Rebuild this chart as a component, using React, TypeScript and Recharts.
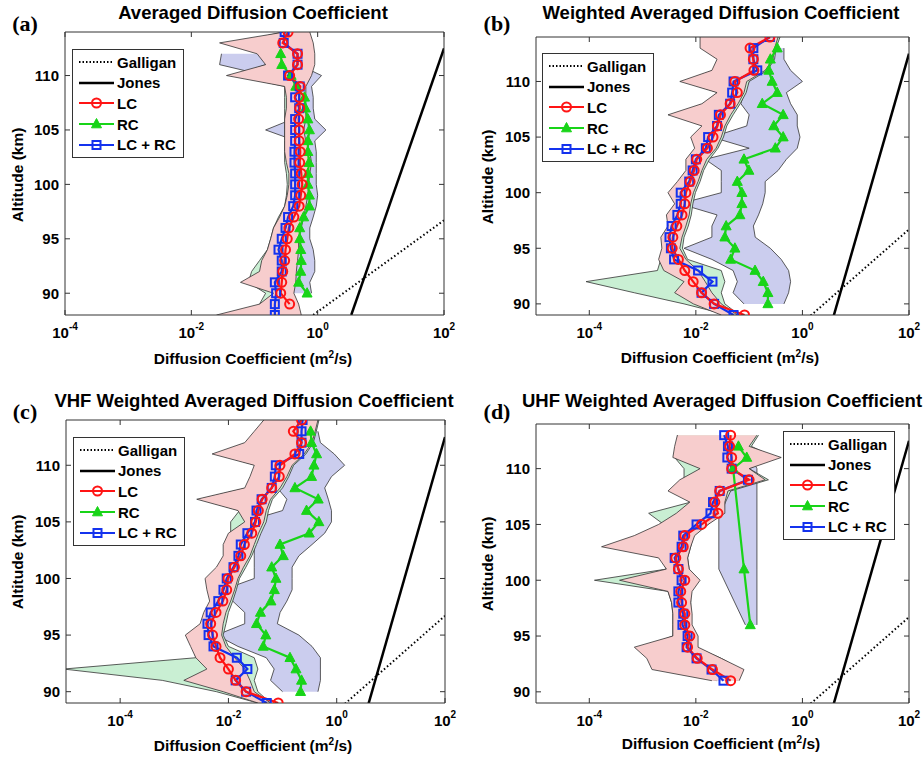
import React from "react";
import { ComposedChart, Line, Area, XAxis, YAxis, Legend } from "recharts";

const FONT = '"Liberation Sans", Arial, Helvetica, sans-serif';
const SERIF = '"Liberation Serif", "Times New Roman", serif';
const RED = "#ff1414";
const GREEN = "#18d418";
const BLUE = "#1432ee";
const PINK_FILL = "#f7cdcd";
const MINT_FILL = "#c9efd3";
const LAV_FILL = "#cbcdee";
const EDGE = "#333";

type Pair = [number, number] | null;
type Val = number | null;

// model curves (same in every panel)
const galliganAlt = [88, 96.7];
const galliganD = [0.85, 100];
const jonesAlt = [88, 112.5];
const jonesD = [3.4, 100];

const xTicks = [1e-4, 1e-2, 1, 100];
const yTicks = [90, 95, 100, 105, 110];

// (a) Averaged
const altA = [114, 113, 112, 111, 110, 109, 108, 107, 106, 105, 104, 103, 102, 101, 100, 99, 98, 97, 96, 95, 94, 93, 92, 91, 90, 89, 88];
const lcA: Val[] = [0.34, 0.28, 0.48, 0.48, 0.36, 0.53, 0.51, 0.52, 0.5, 0.51, 0.51, 0.53, 0.52, 0.55, 0.57, 0.54, 0.51, 0.42, 0.35, 0.33, 0.31, 0.3, 0.28, 0.27, 0.26, 0.36, null];
const rcA: Val[] = [null, null, 0.26, 0.27, 0.38, 0.45, 0.62, 0.64, 0.7, 0.74, 0.7, 0.7, 0.73, 0.7, 0.7, 0.74, 0.74, 0.6, 0.52, 0.52, 0.54, 0.55, 0.54, 0.5, 0.68, null, null];
const bothA: Val[] = [0.3, 0.29, 0.48, 0.48, 0.34, 0.52, 0.44, 0.51, 0.44, 0.44, 0.44, 0.43, 0.43, 0.44, 0.44, 0.44, 0.41, 0.34, 0.31, 0.27, 0.24, 0.27, 0.27, 0.21, 0.22, 0.21, 0.21];
const lcBandA: Pair[] = [[0.3, 0.75], [0.028, 0.85], [0.11, 0.9], [0.15, 0.9], [0.036, 0.8], [0.3, 0.65], [0.32, 0.65], [0.32, 0.65], [0.3, 0.65], [0.3, 0.6], [0.3, 0.65], [0.3, 0.75], [0.32, 0.8], [0.35, 0.75], [0.35, 0.72], [0.33, 0.7], [0.3, 0.65], [0.25, 0.6], [0.2, 0.55], [0.18, 0.5], [0.16, 0.5], [0.13, 0.48], [0.12, 0.46], [0.06, 0.45], [0.2, 0.42], [0.12, 0.5], [0.025, 0.55]];
const rcBandA: Pair[] = [null, null, [0.03, 0.4], [0.028, 0.5], [0.15, 1.15], [0.3, 0.8], [0.45, 0.85], [0.45, 0.85], [0.4, 0.9], [0.15, 1.35], [0.45, 0.9], [0.45, 0.95], [0.5, 0.95], [0.45, 0.95], [0.45, 0.95], [0.45, 1.0], [0.45, 0.95], [0.4, 0.85], [0.35, 0.75], [0.35, 0.75], [0.35, 0.85], [0.3, 0.9], [0.12, 0.9], [0.3, 0.75], [0.4, 0.8], null, null];
const bothBandA: Pair[] = [[0.28, 0.7], [0.05, 0.8], [0.15, 0.85], [0.15, 0.85], [0.05, 0.75], [0.3, 0.62], [0.3, 0.6], [0.3, 0.62], [0.3, 0.6], [0.3, 0.58], [0.3, 0.6], [0.3, 0.7], [0.3, 0.75], [0.32, 0.72], [0.33, 0.7], [0.32, 0.68], [0.3, 0.62], [0.24, 0.58], [0.2, 0.52], [0.18, 0.5], [0.16, 0.48], [0.12, 0.46], [0.09, 0.45], [0.08, 0.43], [0.15, 0.4], [0.12, 0.45], [0.1, 0.5]];

// (b) Weighted averaged
const altB = [114, 113, 112, 111, 110, 109, 108, 107, 106, 105, 104, 103, 102, 101, 100, 99, 98, 97, 96, 95, 94, 93, 92, 91, 90, 89];
const lcB: Val[] = [0.245, 0.104, 0.12, 0.123, 0.054, 0.06, 0.044, 0.029, 0.0254, 0.021, 0.0165, 0.0104, 0.0093, 0.0078, 0.0065, 0.0062, 0.0055, 0.0044, 0.0037, 0.0036, 0.0047, 0.0062, 0.0089, 0.0128, 0.022, 0.082];
const rcB: Val[] = [null, 0.336, 0.25, 0.234, 0.27, 0.336, 0.176, 0.435, 0.29, 0.435, 0.31, 0.08, 0.099, 0.06, 0.073, 0.073, 0.067, 0.037, 0.035, 0.054, 0.045, 0.129, 0.184, 0.225, 0.225, null];
const bothB: Val[] = [0.245, 0.12, 0.12, 0.142, 0.051, 0.048, 0.044, 0.027, 0.025, 0.017, 0.0154, 0.01, 0.0087, 0.0075, 0.0052, 0.0052, 0.0045, 0.0035, 0.0032, 0.0034, 0.0039, 0.011, 0.0205, 0.0128, 0.022, 0.051];
const lcBandB: Pair[] = [[0.012, 0.35], [0.012, 0.3], [0.025, 0.28], [0.02, 0.2], [0.005, 0.09], [0.025, 0.08], [0.013, 0.062], [0.003, 0.045], [0.013, 0.035], [0.008, 0.03], [0.0095, 0.024], [0.0065, 0.016], [0.0065, 0.013], [0.0045, 0.011], [0.003, 0.009], [0.004, 0.008], [0.0028, 0.0075], [0.003, 0.0065], [0.0022, 0.0055], [0.0023, 0.005], [0.002, 0.0065], [0.0025, 0.011], [0.006, 0.015], [0.004, 0.02], [0.009, 0.03], [0.03, 0.06]];
const rcBandB: Pair[] = [null, [0.25, 0.45], [0.12, 0.45], [0.1, 0.6], [0.1, 1.0], [0.08, 0.5], [0.07, 0.6], [0.1, 0.8], [0.09, 0.8], [0.02, 0.9], [0.1, 0.8], [0.015, 0.5], [0.03, 0.35], [0.03, 0.2], [0.03, 0.2], [0.005, 0.18], [0.025, 0.15], [0.02, 0.12], [0.02, 0.13], [0.006, 0.25], [0.02, 0.4], [0.05, 0.55], [0.06, 0.6], [0.05, 0.55], [0.08, 0.45], null];
const bothBandB: Pair[] = [[0.013, 0.38], [0.013, 0.32], [0.026, 0.3], [0.021, 0.22], [0.006, 0.1], [0.026, 0.088], [0.014, 0.068], [0.004, 0.05], [0.014, 0.038], [0.009, 0.033], [0.01, 0.026], [0.007, 0.018], [0.007, 0.014], [0.005, 0.012], [0.0032, 0.0098], [0.0042, 0.0088], [0.003, 0.0082], [0.0032, 0.0072], [0.0024, 0.006], [0.0025, 0.0056], [0.0022, 0.007], [0.0019, 0.03], [0.000087, 0.035], [0.0007, 0.03], [0.006, 0.035], [0.04, 0.065]];

// (c) VHF weighted averaged
const altC = altB;
const lcC: Val[] = [0.224, 0.158, 0.224, 0.169, 0.0895, 0.087, 0.063, 0.042, 0.0357, 0.032, 0.027, 0.0197, 0.0169, 0.0129, 0.0098, 0.0093, 0.0079, 0.0059, 0.0047, 0.0051, 0.0059, 0.007, 0.01, 0.0136, 0.0212, 0.083];
const rcC: Val[] = [null, 0.329, 0.343, 0.425, 0.38, 0.343, 0.169, 0.455, 0.277, 0.468, 0.311, 0.0896, 0.103, 0.063, 0.0755, 0.0704, 0.061, 0.039, 0.033, 0.049, 0.044, 0.137, 0.177, 0.224, 0.215, null];
const bothC: Val[] = [0.234, 0.224, 0.224, 0.203, 0.075, 0.072, 0.063, 0.041, 0.033, 0.031, 0.0224, 0.0169, 0.0153, 0.0124, 0.0093, 0.0081, 0.0065, 0.0047, 0.0041, 0.0043, 0.0053, 0.0143, 0.0224, 0.0136, 0.0212, 0.051];
const lcBandC: Pair[] = [[0.045, 0.45], [0.03, 0.4], [0.02, 0.35], [0.005, 0.25], [0.03, 0.15], [0.025, 0.12], [0.02, 0.09], [0.0026, 0.06], [0.015, 0.05], [0.02, 0.045], [0.01, 0.036], [0.008, 0.03], [0.008, 0.025], [0.006, 0.019], [0.0037, 0.015], [0.004, 0.013], [0.0045, 0.011], [0.0035, 0.009], [0.003, 0.008], [0.0016, 0.0075], [0.002, 0.009], [0.0025, 0.013], [0.004, 0.02], [0.0015, 0.025], [0.008, 0.03], [0.035, 0.06]];
const rcBandC: Pair[] = [null, [0.25, 0.45], [0.2, 0.5], [0.15, 0.9], [0.12, 1.4], [0.1, 0.8], [0.08, 0.6], [0.12, 0.7], [0.1, 0.8], [0.02, 0.8], [0.015, 0.6], [0.03, 0.35], [0.03, 0.2], [0.03, 0.15], [0.03, 0.15], [0.008, 0.15], [0.012, 0.12], [0.02, 0.09], [0.02, 0.08], [0.006, 0.2], [0.015, 0.35], [0.05, 0.5], [0.07, 0.5], [0.06, 0.5], [0.1, 0.45], null];
const bothBandC: Pair[] = [[0.045, 0.47], [0.035, 0.42], [0.022, 0.37], [0.006, 0.27], [0.032, 0.16], [0.027, 0.13], [0.022, 0.1], [0.003, 0.065], [0.016, 0.055], [0.011, 0.05], [0.011, 0.04], [0.009, 0.033], [0.009, 0.027], [0.0065, 0.021], [0.004, 0.016], [0.0045, 0.014], [0.005, 0.012], [0.004, 0.01], [0.0033, 0.009], [0.0018, 0.008], [0.0022, 0.01], [0.0025, 0.03], [0.000009, 0.035], [0.0006, 0.03], [0.006, 0.035], [0.035, 0.06]];

// (d) UHF weighted averaged
const altD = [113, 112, 111, 110, 109, 108, 107, 106, 105, 104, 103, 102, 101, 100, 99, 98, 97, 96, 95, 94, 93, 92, 91];
const lcD: Val[] = [0.045, 0.043, 0.047, 0.047, 0.1, 0.028, 0.0227, 0.026, 0.0128, 0.0062, 0.0058, 0.0042, 0.0047, 0.0062, 0.0052, 0.0054, 0.0062, 0.0062, 0.0077, 0.007, 0.0106, 0.0205, 0.045];
const rcD: Val[] = [null, 0.063, 0.09, 0.05, null, null, null, null, null, null, null, null, 0.08, null, null, null, null, 0.105, null, null, null, null, null];
const bothD: Val[] = [0.034, 0.04, 0.039, 0.047, 0.095, 0.028, 0.021, 0.0188, 0.0103, 0.0058, 0.0054, 0.004, 0.0047, 0.0054, 0.0047, 0.0047, 0.0058, 0.0056, 0.007, 0.0067, 0.0103, 0.0197, 0.033];
const lcBandD: Pair[] = [[0.0045, 0.14], [0.004, 0.1], [0.0037, 0.4], [0.012, 0.1], [0.005, 0.2], [0.003, 0.04], [0.0077, 0.035], [0.0043, 0.035], [0.002, 0.017], [0.0007, 0.0095], [0.00017, 0.008], [0.002, 0.007], [0.0028, 0.0075], [0.00037, 0.012], [0.003, 0.0085], [0.0035, 0.008], [0.0037, 0.0085], [0.0037, 0.0085], [0.0037, 0.011], [0.0007, 0.011], [0.0012, 0.03], [0.0015, 0.08], [0.02, 0.065]];
const rcBandD: Pair[] = [null, [0.05, 0.08], [0.07, 0.11], [0.027, 0.14], null, null, null, null, null, null, null, null, [0.027, 0.14], null, null, null, null, [0.085, 0.14], null, null, null, null, null];
const bothBandD: Pair[] = [[0.0045, 0.15], [0.005, 0.11], [0.004, 0.3], [0.006, 0.1], [0.006, 0.23], [0.004, 0.045], [0.008, 0.036], [0.0013, 0.03], [0.0025, 0.017], [0.0009, 0.009], [0.0003, 0.008], [0.0022, 0.007], [0.0028, 0.0075], [0.000125, 0.011], [0.003, 0.008], [0.0035, 0.008], [0.0037, 0.008], [0.0037, 0.008], [0.0037, 0.01], [0.001, 0.01], [0.0015, 0.03], [0.002, 0.07], [0.025, 0.06]];

const pts = (alt: number[], vals: any[]) =>
  alt.map((a, i) => ({ alt: a, v: vals[i] })).filter((p) => p.v != null);

const XTick = (props: any) => {
  const { x, y, payload, side } = props;
  const dir = side === "bottom" ? -1 : 1;
  const exp = Math.round(Math.log10(payload.value));
  return (
    <g>
      <line x1={x} x2={x} y1={y} y2={y + dir * 5} stroke={EDGE} />
      {side === "bottom" && (
        <text x={x} y={y + 23} textAnchor="middle" fontFamily={FONT} fontWeight="bold" fontSize={15} fill="#000">
          10<tspan dy={-8} fontSize={10}>{exp}</tspan>
        </text>
      )}
    </g>
  );
};

const YTick = (props: any) => {
  const { x, y, payload, side } = props;
  const dir = side === "left" ? 1 : -1;
  return (
    <g>
      <line x1={x} x2={x + dir * 5} y1={y} y2={y} stroke={EDGE} />
      {side === "left" && (
        <text x={x - 6} y={y} dy="0.36em" textAnchor="end" fontFamily={FONT} fontWeight="bold" fontSize={15} fill="#000">
          {payload.value}
        </text>
      )}
    </g>
  );
};

const ring = (p: any) =>
  p.cx == null || p.cy == null ? <g key={p.index} /> : (
    <circle key={p.index} cx={p.cx} cy={p.cy} r={4.5} fill="none" stroke={RED} strokeWidth={2} />
  );
const tri = (p: any) =>
  p.cx == null || p.cy == null ? <g key={p.index} /> : (
    <polygon key={p.index} points={`${p.cx},${p.cy - 5.5} ${p.cx - 5},${p.cy + 3.8} ${p.cx + 5},${p.cy + 3.8}`} fill={GREEN} stroke={GREEN} strokeWidth={1} />
  );
const box = (p: any) =>
  p.cx == null || p.cy == null ? <g key={p.index} /> : (
    <rect key={p.index} x={p.cx - 4} y={p.cy - 4} width={8} height={8} fill="none" stroke={BLUE} strokeWidth={2} />
  );

const legendRows = [
  { name: "Galligan", kind: "g" },
  { name: "Jones", kind: "j" },
  { name: "LC", kind: "lc" },
  { name: "RC", kind: "rc" },
  { name: "LC + RC", kind: "both" },
];

function LegendBox() {
  return (
    <div style={{ border: "1px solid #333", background: "#fff", padding: "2px 6px 2px 6px", fontFamily: FONT, fontWeight: "bold", fontSize: 15, width: 98 }}>
      {legendRows.map((r) => (
        <div key={r.name} style={{ display: "flex", alignItems: "center", height: 20.6 }}>
          <svg width={35} height={14} style={{ flex: "none" }}>
            {r.kind === "g" && <line x1={0} x2={35} y1={7} y2={7} stroke="#000" strokeWidth={2} strokeDasharray="1.5 2" />}
            {r.kind === "j" && <line x1={0} x2={35} y1={7} y2={7} stroke="#000" strokeWidth={2.5} />}
            {r.kind === "lc" && (<><line x1={0} x2={35} y1={7} y2={7} stroke={RED} strokeWidth={2.2} />{ring({ cx: 17.5, cy: 7, index: 0 })}</>)}
            {r.kind === "rc" && (<><line x1={0} x2={35} y1={7} y2={7} stroke={GREEN} strokeWidth={2.2} />{tri({ cx: 17.5, cy: 7, index: 0 })}</>)}
            {r.kind === "both" && (<><line x1={0} x2={35} y1={7} y2={7} stroke={BLUE} strokeWidth={2.2} />{box({ cx: 17.5, cy: 7, index: 0 })}</>)}
          </svg>
          <span style={{ marginLeft: 3, whiteSpace: "nowrap" }}>{r.name}</span>
        </div>
      ))}
    </div>
  );
}

function Panel(props: any) {
  const { left, top, width, height, margin, xDomain, yDomain, alt, lc, rc, both, lcBand, rcBand, bothBand, legendAt } = props;
  // axes take 1px each; margins are trimmed so the plot frame lands where it should
  const m = { top: margin.top - 1, left: margin.left - 1, right: margin.right - 1, bottom: margin.bottom - 1 };
  return (
    <div style={{ position: "absolute", left, top }}>
      <ComposedChart width={width} height={height} layout="vertical" margin={m}>
        <XAxis type="number" scale="log" domain={xDomain} allowDataOverflow ticks={xTicks} interval={0} height={1} tickSize={0} tickMargin={0} tickLine={false} axisLine={{ stroke: EDGE }} tick={<XTick side="bottom" />} />
        <XAxis xAxisId="top" orientation="top" type="number" scale="log" domain={xDomain} allowDataOverflow ticks={xTicks} interval={0} height={1} tickSize={0} tickMargin={0} tickLine={false} axisLine={{ stroke: EDGE }} tick={<XTick side="top" />} />
        <YAxis type="number" dataKey="alt" reversed domain={yDomain} allowDataOverflow ticks={yTicks} interval={0} width={1} tickSize={0} tickMargin={0} tickLine={false} axisLine={{ stroke: EDGE }} tick={<YTick side="left" />} />
        <YAxis yAxisId="right" orientation="right" type="number" dataKey="alt" reversed domain={yDomain} allowDataOverflow ticks={yTicks} interval={0} width={1} tickSize={0} tickMargin={0} tickLine={false} axisLine={{ stroke: EDGE }} tick={<YTick side="right" />} />
        <Area data={pts(alt, rcBand)} dataKey="v" type="linear" fill={LAV_FILL} fillOpacity={1} stroke={EDGE} strokeWidth={0.8} isAnimationActive={false} />
        <Area data={pts(alt, bothBand)} dataKey="v" type="linear" fill={MINT_FILL} fillOpacity={1} stroke={EDGE} strokeWidth={0.8} isAnimationActive={false} />
        <Area data={pts(alt, lcBand)} dataKey="v" type="linear" fill={PINK_FILL} fillOpacity={1} stroke={EDGE} strokeWidth={0.8} isAnimationActive={false} />
        <Line data={pts(galliganAlt, galliganD)} dataKey="v" type="linear" stroke="#000" strokeWidth={2} strokeDasharray="1.5 2.5" dot={false} isAnimationActive={false} />
        <Line data={pts(jonesAlt, jonesD)} dataKey="v" type="linear" stroke="#000" strokeWidth={2.5} dot={false} isAnimationActive={false} />
        <Line data={pts(alt, rc)} dataKey="v" type="linear" stroke={GREEN} strokeWidth={2.2} dot={tri} activeDot={false} isAnimationActive={false} />
        <Line data={pts(alt, both)} dataKey="v" type="linear" stroke={BLUE} strokeWidth={2.2} dot={box} activeDot={false} isAnimationActive={false} />
        <Line data={pts(alt, lc)} dataKey="v" type="linear" stroke={RED} strokeWidth={2.2} dot={ring} activeDot={false} isAnimationActive={false} />
        <Legend content={() => <LegendBox />} layout="vertical" align="center" verticalAlign="middle" wrapperStyle={{ left: legendAt[0], top: legendAt[1], width: "auto", height: "auto" }} />
      </ComposedChart>
    </div>
  );
}

const Label = ({ x, y, children, rotate, style }: any) => (
  <div style={{ position: "absolute", left: x, top: y, transform: `translate(-50%, -50%)${rotate ? " rotate(-90deg)" : ""}`, whiteSpace: "nowrap", fontFamily: FONT, fontWeight: "bold", color: "#000", lineHeight: 1, ...style }}>
    {children}
  </div>
);

const XLabel = () => (
  <span>Diffusion Coefficient (m<sup style={{ fontSize: 10, verticalAlign: 6 }}>2</sup>/s)</span>
);

export default function App() {
  return (
    <div style={{ position: "absolute", left: 0, top: 0, width: 923, height: 758, background: "#fff", overflow: "hidden" }}>
      <Panel left={0} top={0} width={460} height={370} margin={{ top: 32, left: 65, right: 16, bottom: 55 }} xDomain={[1e-4, 100]} yDomain={[88, 114]} alt={altA} lc={lcA} rc={rcA} both={bothA} lcBand={lcBandA} rcBand={rcBandA} bothBand={bothBandA} legendAt={[72, 49]} />
      <Panel left={460} top={0} width={463} height={370} margin={{ top: 37, left: 76, right: 14, bottom: 55 }} xDomain={[1e-5, 100]} yDomain={[89, 114]} alt={altB} lc={lcB} rc={rcB} both={bothB} lcBand={lcBandB} rcBand={rcBandB} bothBand={bothBandB} legendAt={[82, 53]} />
      <Panel left={0} top={380} width={460} height={378} margin={{ top: 40, left: 66, right: 15, bottom: 55 }} xDomain={[1e-5, 100]} yDomain={[89, 114]} alt={altC} lc={lcC} rc={rcC} both={bothC} lcBand={lcBandC} rcBand={rcBandC} bothBand={bothBandC} legendAt={[73, 57]} />
      <Panel left={460} top={380} width={463} height={378} margin={{ top: 44, left: 76, right: 14, bottom: 55 }} xDomain={[1e-5, 100]} yDomain={[89, 114]} alt={altD} lc={lcD} rc={rcD} both={bothD} lcBand={lcBandD} rcBand={rcBandD} bothBand={bothBandD} legendAt={[323, 51]} />

      <Label x={253} y={13} style={{ fontSize: 18.5 }}>Averaged Diffusion Coefficient</Label>
      <Label x={721} y={13} style={{ fontSize: 18.5 }}>Weighted Averaged Diffusion Coefficient</Label>
      <Label x={254} y={401} style={{ fontSize: 18.5 }}>VHF Weighted Averaged Diffusion Coefficient</Label>
      <Label x={722} y={401} style={{ fontSize: 18.5 }}>UHF Weighted Averaged Diffusion Coefficient</Label>

      <Label x={25} y={24} style={{ fontSize: 22, fontFamily: SERIF }}>(a)</Label>
      <Label x={497} y={24} style={{ fontSize: 22, fontFamily: SERIF }}>(b)</Label>
      <Label x={25} y={412} style={{ fontSize: 22, fontFamily: SERIF }}>(c)</Label>
      <Label x={497} y={412} style={{ fontSize: 22, fontFamily: SERIF }}>(d)</Label>

      <Label x={18} y={175} rotate style={{ fontSize: 15.5 }}>Altitude (km)</Label>
      <Label x={488} y={177} rotate style={{ fontSize: 15.5 }}>Altitude (km)</Label>
      <Label x={18} y={562} rotate style={{ fontSize: 15.5 }}>Altitude (km)</Label>
      <Label x={488} y={564} rotate style={{ fontSize: 15.5 }}>Altitude (km)</Label>

      <Label x={253} y={358} style={{ fontSize: 15.5 }}><XLabel /></Label>
      <Label x={720} y={357} style={{ fontSize: 15.5 }}><XLabel /></Label>
      <Label x={253} y={745} style={{ fontSize: 15.5 }}><XLabel /></Label>
      <Label x={721} y={743} style={{ fontSize: 15.5 }}><XLabel /></Label>
    </div>
  );
}
